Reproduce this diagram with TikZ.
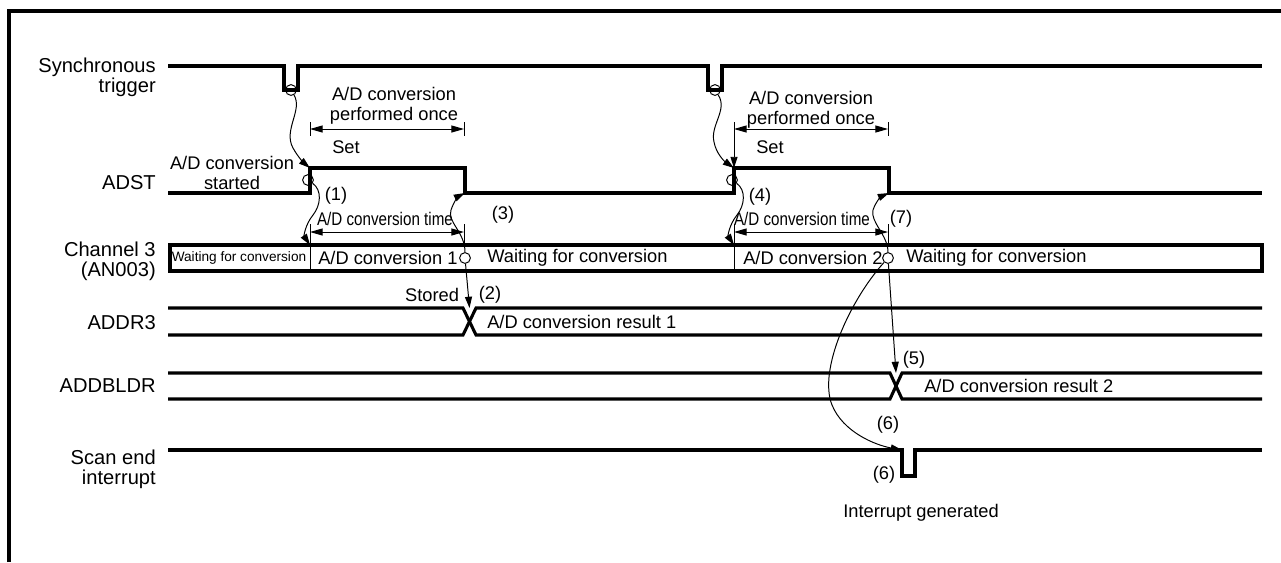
\documentclass[tikz,border=0pt]{standalone}
\usepackage{fontspec}
\setmainfont{Liberation Sans}
\usetikzlibrary{arrows.meta}

\begin{document}
\begin{tikzpicture}[x=0.025cm, y=-0.025cm,
  sig/.style={line width=2.2pt},
  hair/.style={line width=0.7pt},
  dim/.style={hair, {Triangle[length=9pt,width=5pt]}-{Triangle[length=9pt,width=5pt]}},
  arrow/.style={hair, -{Triangle[length=8pt,width=5pt]}},
  evt/.style={circle, draw, hair, inner sep=0pt, minimum size=0.27cm},
  signame/.style={font=\fontsize{14.3}{14.4}\selectfont, align=right, anchor=east, inner sep=0pt},
  txt/.style={font=\fontsize{13}{14.2}\selectfont, align=center, inner sep=0pt},
  smalltxt/.style={font=\fontsize{9.7}{11}\selectfont, inner sep=0pt}
]
\useasboundingbox (0,0) rectangle (1281,562);

% frame
\draw[line width=2.5pt] (9,562) -- (9,11) -- (1281,11);

% synchronous trigger
\node[signame] (lbltrig) at (156,77) {Synchronous\\trigger};
\draw[sig] (168,66) -- (284,66) -- (284,90) -- (298,90) -- (298,66) -- (708,66)
  -- (708,90) -- (722,90) -- (722,66) -- (1262,66);
\node[evt] (tcirc1) at (291,90) {};
\node[evt] (tcirc2) at (715,90) {};

% ADST
\node[signame] (lbladst) at (156,183) {ADST};
\draw[sig] (168,193) -- (310,193) -- (310,168) -- (465,168) -- (465,193) -- (734,193)
  -- (734,168) -- (889,168) -- (889,193) -- (1262,193);
\coordinate (adstup1) at (310,168);
\coordinate (adstdn1) at (465,193);
\coordinate (adstup2) at (734,168);
\coordinate (adstdn2) at (889,193);
\node[evt] (acirc1) at (308,180) {};
\node[evt] (acirc2) at (732,180) {};
\node[txt] (started) at (232,173) {A/D conversion\\started};

% A/D conversion performed once
\node[txt] (once1) at (394,106) {A/D conversion\\performed once};
\node[txt] (once2) at (811,110) {A/D conversion\\performed once};
\draw[hair] (310,122) -- (310,136);
\draw[hair] (464,122) -- (464,136);
\draw[dim] (310,129) -- (464,129);
\draw[hair] (888,122) -- (888,136);
\draw[dim] (734,129) -- (888,129);
\node[txt] (set1) at (346,147) {Set};
\node[txt] (set2) at (770,147) {Set};

% A/D conversion time
\node[txt] (ctime1) at (385,219) {\scalebox{0.83}[1]{A/D conversion time}};
\node[txt] (ctime2) at (802,219) {\scalebox{0.83}[1]{A/D conversion time}};
\draw[hair] (310,224) -- (310,245);
\draw[hair] (464,224) -- (464,245);
\draw[dim] (310,232) -- (464,232);
\draw[hair] (734,224) -- (734,245);
\draw[hair] (888,224) -- (888,245);
\draw[dim] (734,232) -- (888,232);

% channel 3
\node[signame] (lblch) at (156,261) {Channel 3\\(AN003)};
\draw[sig] (170,245) rectangle (1262,271);
\draw[hair] (310,245) -- (310,271);
\draw[hair] (734,245) -- (734,271);
\coordinate (chdiv1) at (310,245);
\coordinate (chdiv2) at (734,245);
\node[smalltxt] (wait0) at (239,258) {Waiting for conversion};
\node[txt, anchor=west] (conv1) at (318,258) {A/D conversion 1};
\node[txt, anchor=west] (wait1) at (487,258) {Waiting for conversion};
\node[txt, anchor=west] (conv2) at (743,258) {A/D conversion 2};
\node[txt, anchor=west] (wait2) at (906,258) {Waiting for conversion};
\node[evt] (ccirc1) at (465,258) {};
\node[evt] (ccirc2) at (888,258) {};

% ADDR3
\node[signame] (lbladdr) at (156,323) {ADDR3};
\draw[sig] (168,308) -- (463,308) -- (476,335) -- (1262,335);
\draw[sig] (168,335) -- (463,335) -- (476,308) -- (1262,308);
\coordinate (addrx) at (469.5,308);
\node[txt, anchor=west] (res1) at (487,322) {A/D conversion result 1};
\node[txt] (stored) at (432,295) {Stored};

% ADDBLDR
\node[signame] (lblbldr) at (156,386) {ADDBLDR};
\draw[sig] (168,373) -- (890,373) -- (902,399) -- (1262,399);
\draw[sig] (168,399) -- (890,399) -- (902,373) -- (1262,373);
\coordinate (bldrx) at (896,373);
\node[txt, anchor=west] (res2) at (924,386) {A/D conversion result 2};

% scan end interrupt
\node[signame] (lblscan) at (156,469) {Scan end\\interrupt};
\draw[sig] (168,450) -- (902,450) -- (902,476) -- (915,476) -- (915,450) -- (1262,450);
\coordinate (scanpulse) at (902,450);
\node[txt] (irq) at (921,513) {Interrupt generated};

% event arrows
\draw[arrow] (tcirc1) .. controls (303,110) and (283,130) .. (293,148)
  .. controls (298,157) and (304,163) .. (adstup1);
\draw[arrow] (tcirc2) .. controls (728,110) and (710,125) .. (714,142)
  .. controls (716,153) and (724,161) .. (adstup2);
\draw[arrow] (734,122) -- (adstup2);
\draw[arrow] (acirc1) .. controls (322,190) and (321,205) .. (313,215)
  .. controls (305,225) and (304,236) .. (chdiv1);
\draw[arrow] (acirc2) .. controls (746,190) and (745,205) .. (737,215)
  .. controls (729,225) and (728,236) .. (chdiv2);
\draw[arrow] (ccirc1) .. controls (465,232) and (447,222) .. (451,210)
  .. controls (454,201) and (459,196) .. (adstdn1);
\draw[arrow] (ccirc1) -- (addrx);
\draw[arrow] (ccirc2) .. controls (888,235) and (870,222) .. (873,210)
  .. controls (876,201) and (882,196) .. (adstdn2);
\draw[arrow] (ccirc2) -- (bldrx);
\draw[arrow] (ccirc2) .. controls (850,300) and (818,370) .. (832,405)
  .. controls (843,432) and (875,445) .. (scanpulse);

% step numbers
\node[txt] (n1) at (336,196) {(1)};
\node[txt] (n2) at (490,295) {(2)};
\node[txt] (n3) at (503,215) {(3)};
\node[txt] (n4) at (760,197) {(4)};
\node[txt] (n5) at (914,360) {(5)};
\node[txt] (n6a) at (888,425) {(6)};
\node[txt] (n6b) at (884,475) {(6)};
\node[txt] (n7) at (901,219) {(7)};

\end{tikzpicture}
\end{document}
